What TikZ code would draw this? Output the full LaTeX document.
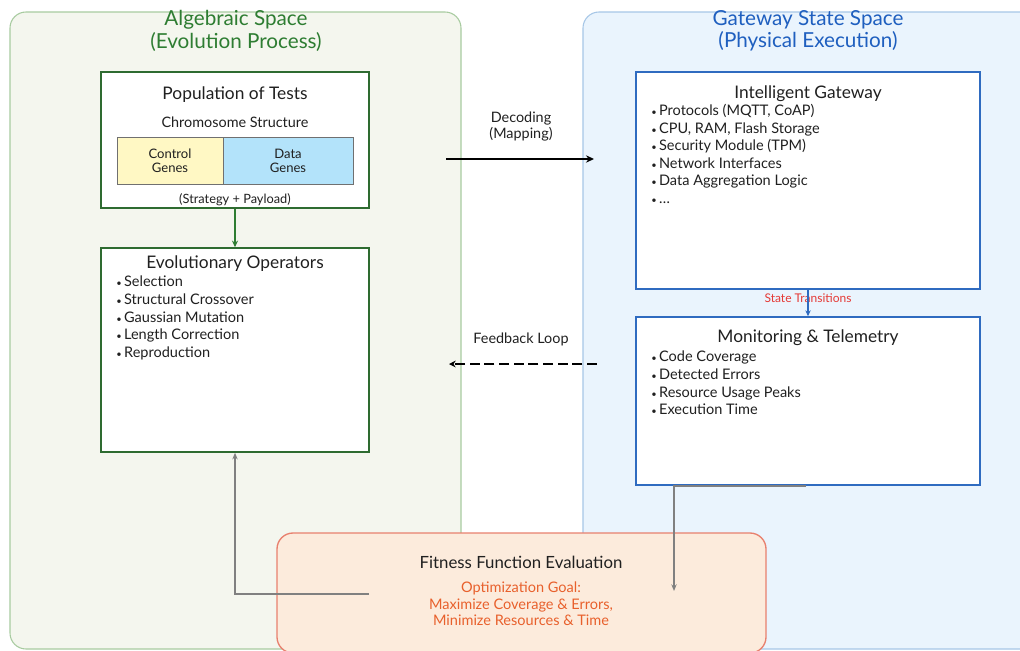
\documentclass[tikz,border=0pt]{standalone}
\usepackage{fontspec}
\setmainfont{Lato}
\usetikzlibrary{arrows.meta}
\definecolor{lpanelfill}{HTML}{F4F6EE}
\definecolor{lpaneldraw}{HTML}{A8CBA0}
\definecolor{rpanelfill}{HTML}{EAF4FD}
\definecolor{rpaneldraw}{HTML}{A7C7E7}
\definecolor{greentxt}{HTML}{2E7D32}
\definecolor{greenbox}{HTML}{2E6B30}
\definecolor{bluetxt}{HTML}{1F5FBF}
\definecolor{bluebox}{HTML}{2F6BC0}
\definecolor{ctrlfill}{HTML}{FFF8C4}
\definecolor{datafill}{HTML}{B3E3FA}
\definecolor{genedraw}{HTML}{707070}
\definecolor{fitfill}{HTML}{FCEBDC}
\definecolor{fitdraw}{HTML}{E8806E}
\definecolor{redtxt}{HTML}{E53935}
\definecolor{orangetxt}{HTML}{E8602C}
\definecolor{graylink}{HTML}{808080}
\definecolor{darktxt}{HTML}{202020}
\tikzset{
  panel/.style={rounded corners=12pt, line width=0.8pt},
  gbox/.style={draw=greenbox, fill=white, line width=1.1pt, minimum width=201pt},
  bbox/.style={draw=bluebox, fill=white, line width=1.1pt, minimum width=258pt},
  gene/.style={draw=genedraw, line width=0.6pt, minimum height=35.25pt, align=center, font=\fontsize{9.8}{10.5}\selectfont, text=darktxt},
  ptitle/.style={font=\fontsize{15.5}{16.8}\selectfont, align=center},
  btitle/.style={font=\fontsize{13}{14}\selectfont, text=darktxt},
  sub/.style={font=\fontsize{10.8}{12}\selectfont, text=darktxt},
  small/.style={font=\fontsize{9.6}{11}\selectfont, text=darktxt},
  blist/.style={font=\fontsize{10.9}{13.2}\selectfont, text=darktxt, align=left, anchor=north west, inner sep=0pt},
  lbl/.style={font=\fontsize{10.8}{12}\selectfont, text=darktxt, align=center},
  grayarrow/.style={draw=graylink, line width=1.1pt, -{Stealth[length=5pt,width=4pt]}},
}
\newcommand{\bl}{{\scriptsize\textbullet}\,}
\begin{document}
\begin{tikzpicture}[x=0.75pt,y=-0.75pt]
\useasboundingbox (0,0) rectangle (1020,650);
\fill[white] (0,0) rectangle (1020,650);
% panels
\draw[panel, fill=lpanelfill, draw=lpaneldraw] (10,12) rectangle (461,649);
\draw[panel, fill=rpanelfill, draw=rpaneldraw] (583,12) rectangle (1040,649);
\node[ptitle, text=greentxt] (ltitle) at (236,31) {Algebraic Space\\(Evolution Process)};
\node[ptitle, text=bluetxt] (rtitle) at (808,31) {Gateway State Space\\(Physical Execution)};

% population
\node[gbox, minimum height=102pt] (pop) at (235,140) {};
\node[btitle] (poptitle) at (235,95) {Population of Tests};
\node[sub] (chrom) at (235,122) {Chromosome Structure};
\node[gene, fill=ctrlfill, minimum width=79.5pt] (ctrl) at (170,160.5) {Control\\Genes};
\node[gene, fill=datafill, minimum width=97.5pt] (data) at (288,160.5) {Data\\Genes};
\node[small] (strat) at (235,200) {(Strategy + Payload)};

% evolutionary operators
\node[gbox, minimum height=153pt] (evo) at (235,350) {};
\node[btitle] (evotitle) at (235,264) {Evolutionary Operators};
\node[blist] (evolist) at (116,276) {\bl Selection\\\bl Structural Crossover\\\bl Gaussian Mutation\\\bl Length Correction\\\bl Reproduction};

\draw[draw=greentxt, line width=1.1pt, -{Stealth[length=5pt,width=4.5pt]}] (pop.south) -- (evo.north);

% gateway
\node[bbox, minimum height=162.75pt] (gw) at (808,180.5) {};
\node[btitle] (gwtitle) at (808,94) {Intelligent Gateway};
\node[blist] (gwlist) at (651,104) {\bl Protocols (MQTT, CoAP)\\\bl CPU, RAM, Flash Storage\\\bl Security Module (TPM)\\\bl Network Interfaces\\\bl Data Aggregation Logic\\\bl \dots};

% monitoring
\node[bbox, minimum height=126pt] (mon) at (808,401) {};
\node[btitle] (montitle) at (808,338) {Monitoring \& Telemetry};
\node[blist] (monlist) at (651,351) {\bl Code Coverage\\\bl Detected Errors\\\bl Resource Usage Peaks\\\bl Execution Time};

\node[font=\fontsize{9}{10}\selectfont, text=redtxt] (st) at (808,298) {State Transitions};
\draw[draw=bluebox, line width=1.1pt, -{Stealth[length=4.5pt,width=4pt]}] (gw.south) -- (mon.north);

% decoding
\coordinate (decS) at (446,159);
\coordinate (decE) at (594,159);
\draw[line width=1.7pt, -{Stealth[length=6pt,width=5.5pt]}] (decS) -- (decE);
\node[lbl] (declbl) at (521,127) {Decoding\\(Mapping)};

% feedback
\coordinate (fbS) at (597,364);
\coordinate (fbE) at (449,364);
\draw[line width=1.6pt, dash pattern=on 7.5pt off 3.5pt, -{Stealth[length=5pt,width=5pt]}] (fbS) -- (fbE);
\node[lbl] (fblbl) at (521,339) {Feedback Loop};

% fitness
\node[draw=fitdraw, fill=fitfill, line width=1pt, rounded corners=12pt, minimum width=366.75pt, minimum height=90pt] (fit) at (521.5,593) {};
\node[btitle, font=\fontsize{12.6}{14}\selectfont] (fittitle) at (521,562) {Fitness Function Evaluation};
\node[font=\fontsize{10.9}{12.3}\selectfont, text=orangetxt, align=center] (goal) at (521,604) {Optimization Goal:\\Maximize Coverage \& Errors,\\Minimize Resources \& Time};

% gray connectors
\coordinate (g1) at (806,486);
\coordinate (g2) at (674,486);
\coordinate (g3) at (674,591);
\draw[grayarrow] (g1) -- (g2) -- (g3);
\coordinate (h1) at (369,594);
\coordinate (h2) at (235,594);
\draw[grayarrow] (h1) -- (h2) -- (evo.south);
\end{tikzpicture}
\end{document}
